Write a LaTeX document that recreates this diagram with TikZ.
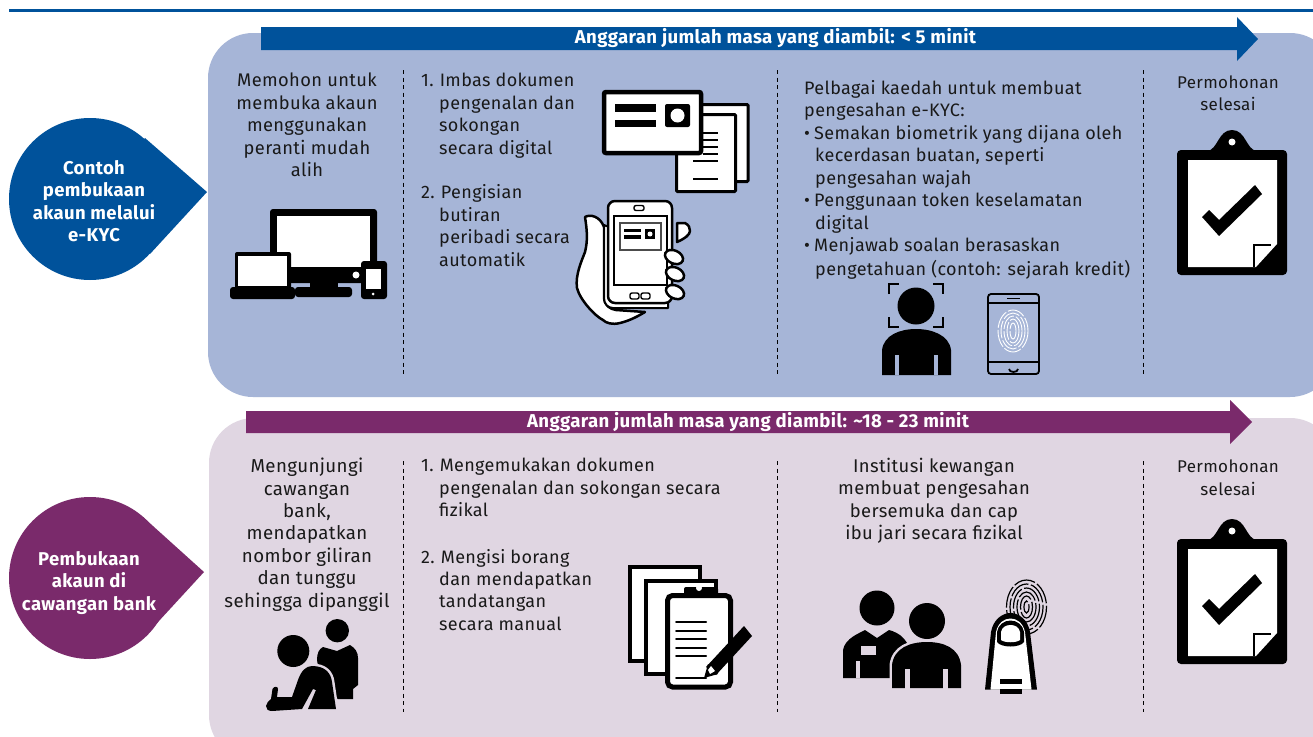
\documentclass[tikz,border=0pt]{standalone}
\usepackage{fontspec}
\setmainfont[LetterSpace=2]{Fira Sans}
\definecolor{bluedk}{HTML}{00529B}
\definecolor{bluelt}{HTML}{A6B5D7}
\definecolor{purpdk}{HTML}{7A2A6B}
\definecolor{purplt}{HTML}{E0D6E2}
\tikzset{x=1pt,y=-1pt,
 sized/.style={font=\fontsize{#1}{22.4}\selectfont},
 body/.style={sized=18,text=black!90,inner sep=0,align=left,anchor=north west},
 ctr/.style={sized=18,text=black!90,inner sep=0,align=center,anchor=north},
 lead/.style={font=\fontsize{18.5}{22.4}\selectfont\bfseries,text=white,inner sep=0,align=center},
 head/.style={font=\fontsize{18.6}{20}\selectfont\bfseries,text=white,inner sep=0},
 sepline/.style={dash pattern=on 4pt off 3.5pt,line width=0.9pt,black},
 panel/.style={rounded corners=45pt},
 clipboardicon/.pic={
  \fill[black,rounded corners=4pt] (1177,150) rectangle (1287,275);
  \fill[black] (1207,151) .. controls (1218,150) and (1218,130) .. (1232,130) .. controls (1246,130) and (1246,150) .. (1257,151) -- cycle;
  \fill[white] (1232,142) circle[radius=3.5];
  \fill[white] (1188,160) -- (1277,160) -- (1277,244) -- (1256,267) -- (1188,267) -- cycle;
  \draw[black,line width=2.5pt] (1271,245) -- (1254,245) -- (1254,267);
  \fill[black] (1202,217) -- (1209,210) -- (1219,220) -- (1255,185) -- (1262,194) -- (1219,236) -- cycle;
 },
}
\begin{document}
\begin{tikzpicture}
\useasboundingbox (0,0) rectangle (1313,736);
\fill[white] (0,0) rectangle (1313,736);
\begin{scope}
\clip (0,0) rectangle (1313,736);
\draw[bluedk,line width=3pt] (9,10) -- (1313,10);
\fill[bluelt,panel] (208,33) rectangle (1335,397);
\fill[purplt,panel] (209,418) rectangle (1335,760);
\end{scope}
% arrows
\fill[bluedk] (261,27) -- (1237,27) -- (1237,17) -- (1258,39) -- (1237,61) -- (1237,50) -- (261,50) -- cycle;
\fill[purpdk] (246,411) -- (1230,411) -- (1230,400) -- (1252,422) -- (1230,444) -- (1230,433) -- (246,433) -- cycle;
\node[head] (h1) at (775.5,38.5) {Anggaran jumlah masa yang diambil: < 5 minit};
\node[head] (h2) at (748,422) {Anggaran jumlah masa yang diambil: \char"007E{}18 - 23 minit};
% teardrops
\fill[bluedk] (90,199) circle[radius=81];
\fill[bluedk] (145,138) -- (207,192) -- (150,254) -- (90,199) -- cycle;
\fill[purpdk] (90,578) circle[radius=81];
\fill[purpdk] (143,517) -- (204,572) -- (147,634) -- (90,578) -- cycle;
\node[lead] (t1) at (94,201) {Contoh\\pembukaan\\akaun melalui\\e-KYC};
\node[lead] (t2) at (89,583) {Pembukaan\\akaun di\\cawangan bank};
% separators
\coordinate (s1a) at (403,70); \coordinate (s1b) at (403,374);
\coordinate (s2a) at (777,70); \coordinate (s2b) at (777,374);
\coordinate (s3a) at (1143,70); \coordinate (s3b) at (1143,374);
\coordinate (s4a) at (403,461); \coordinate (s4b) at (403,712);
\coordinate (s5a) at (777,461); \coordinate (s5b) at (777,712);
\coordinate (s6a) at (1143,461); \coordinate (s6b) at (1143,712);
\foreach \a/\b in {s1a/s1b,s2a/s2b,s3a/s3b,s4a/s4b,s5a/s5b,s6a/s6b} \draw[sepline] (\a) -- (\b);
% upper text
\node[ctr,sized=18.3] (u1) at (307,73) {Memohon untuk\\membuka akaun\\menggunakan\\peranti mudah\\alih};
\node[body] (u2a) at (421,73) {1.\kern1pt\ Imbas dokumen};
\node[body] (u2b) at (439,95.5) {pengenalan dan\\sokongan\\secara digital};
\node[body] (u2c) at (421,184.5) {2.\kern1pt\ Pengisian};
\node[body] (u2d) at (439,207) {butiran\\peribadi secara\\automatik};
\node[body] (u3a) at (804,80) {Pelbagai kaedah untuk membuat\\pengesahan e-KYC:};
\node[body] (u3b) at (804,125) {•\kern-1pt\ Semakan biometrik yang dijana oleh};
\node[body] (u3c) at (815,147.5) {kecerdasan buatan, seperti\\pengesahan wajah};
\node[body] (u3d) at (804,192.5) {•\kern-1pt\ Penggunaan token keselamatan};
\node[body] (u3e) at (815,215) {digital};
\node[body] (u3f) at (804,237.5) {•\kern-1pt\ Menjawab soalan berasaskan};
\node[body] (u3g) at (815,260) {pengetahuan (contoh: sejarah kredit)};
\node[ctr,sized=17] (u4) at (1228,75.5) {Permohonan\\selesai};
% lower text
\node[ctr,sized=18.7] (l1) at (307,458) {Mengunjungi\\cawangan\\bank,\\mendapatkan\\nombor giliran\\dan tunggu\\sehingga dipanggil};
\node[body] (l2a) at (421,458) {1.\kern1pt\ Mengemukakan dokumen};
\node[body] (l2b) at (439,480.5) {pengenalan dan sokongan secara\\fizikal};
\node[body] (l2c) at (421,549) {2.\kern1pt\ Mengisi borang};
\node[body] (l2d) at (439,571.5) {dan mendapatkan\\tandatangan\\secara manual};
\node[ctr,sized=18.4] (l3) at (934,458) {Institusi kewangan\\membuat pengesahan\\bersemuka dan cap\\ibu jari secara fizikal};
\node[ctr,sized=17] (l4) at (1228,460) {Permohonan\\selesai};
% clipboards
\pic at (0,0) {clipboardicon};
\pic at (0,389) {clipboardicon};
% devices
\fill[black,rounded corners=3pt] (270,209) rectangle (377,283);
\fill[white] (277,216) rectangle (370,267);
\fill[white] (356,275) circle[radius=3.5];
\fill[black] (310,283) rectangle (338,288);
\fill[black,rounded corners=3pt] (295,287) rectangle (352,297);
\fill[black,rounded corners=2pt] (235,252) rectangle (291,289);
\fill[white] (238,256) rectangle (287,286);
\fill[black,rounded corners=3pt] (230,287) rectangle (295,299);
\fill[black,rounded corners=3pt] (361,261) rectangle (387,299);
\fill[white] (366,269) rectangle (381,289);
\fill[white] (373,294) circle[radius=1.5];
% hand with phone
\draw[black,fill=white,line width=2.5pt,line join=round] (585,217) .. controls (590,214) and (600,216) .. (604,227) -- (604,298) .. controls (605,306) and (610,309) .. (616,310) -- (645,312) .. controls (635,318) and (628,321) .. (620,323) .. controls (612,325) and (606,323) .. (603,320) .. controls (595,316) and (580,300) .. (577,288) .. controls (575,275) and (582,260) .. (585,252) .. controls (588,240) and (587,230) .. (585,217) -- cycle;
\draw[black,line width=2pt,fill=white,line join=round] (604,225) -- (604,298) .. controls (604,304) and (608,308) .. (613,308) -- (668,308) -- (668,250) -- cycle;
\draw[black,fill=white,line width=2.5pt,line join=round] (677,223) -- (685,223) .. controls (689,225) and (690,228) .. (690,231) .. controls (690,235) and (684,239) .. (677,242) -- cycle;
\draw[black,fill=white,line width=2.5pt,rounded corners=7pt] (608,201) rectangle (672,303);
\draw[black,fill=white,line width=2pt] (614,216) rectangle (667,285);
\draw[black!70,fill=white,line width=1.2pt] (620,223) rectangle (661,250);
\fill[black] (624,229) rectangle (641,232);
\fill[black] (624,235) rectangle (641,238.5);
\fill[black] (645,229) rectangle (655,239);
\fill[white] (650,234) circle[radius=2.5];
\draw[black,line width=1.4pt,rounded corners=2pt] (634,205.5) rectangle (644,210.5);
\draw[black,line width=1.4pt,rounded corners=2pt] (630,293) rectangle (639,299);
\draw[black,line width=1.4pt,rounded corners=2pt] (641,293) rectangle (650,299);
\foreach \fx/\fy in {674/257,675/274,675/292}
 \draw[black,fill=white,line width=2.5pt,rotate around={-25:(\fx,\fy)}] (\fx,\fy) ellipse[x radius=9.5,y radius=6.5];
% id card and sheets
\draw[black,fill=white,line width=3pt,rounded corners=1pt] (697,104.5) rectangle (748,181.5);
\draw[black,fill=white,line width=3pt,rounded corners=1pt] (676.5,114.5) rectangle (735.5,191.5);
\foreach \ly/\lx in {133/703,140/703,147/703,154/703,161/693,179/693} \draw[black,line width=1.5pt] (\lx,\ly) -- (718,\ly);
\draw[black,fill=white,line width=4.5pt,rounded corners=2pt] (604,92) rectangle (701,153);
\fill[black] (615,104) rectangle (656,112);
\fill[black] (615,120) rectangle (656,127);
\fill[black,rounded corners=2pt] (665,104) rectangle (690,127);
\fill[white] (677.5,115.5) circle[radius=7];
% face
\fill[black] (916,306) circle[radius=18.5];
\fill[black] (882,375) -- (882,350) .. controls (884,335) and (900,329) .. (916,329) .. controls (932,329) and (949,335) .. (951,350) -- (951,375) -- cycle;
\fill[bluelt] (895,355) rectangle (899,375);
\fill[bluelt] (934,355) rectangle (938,375);
\draw[black,line width=1.8pt] (889,294) -- (889,284) -- (899,284);
\draw[black,line width=1.8pt] (933,284) -- (943,284) -- (943,294);
\draw[black,line width=1.8pt] (889,317) -- (889,327) -- (899,327);
\draw[black,line width=1.8pt] (933,327) -- (943,327) -- (943,317);
% phone fingerprint
\draw[black,line width=1.8pt,rounded corners=3pt] (988,294) rectangle (1039,374);
\draw[black,line width=1.4pt] (988,303) -- (1039,303);
\draw[black,line width=1.4pt] (988,362) -- (1039,362);
\draw[black,line width=1.5pt] (1007,298.5) -- (1020,298.5);
\draw[black,line width=1.8pt] (1009,369) arc[start angle=180,end angle=360,x radius=4.5,y radius=-3];
\foreach \rr/\ss in {15/21,12/18,9/15,6/12,3/8}
 \draw[white,line width=0.9pt,dash pattern=on 18pt off 2pt] (1013,331) ellipse[x radius=\rr,y radius=\ss];
% seated person
\fill[black] (337.3,630.7) circle[radius=11.7];
\fill[black] (317,660) .. controls (317,653) and (319,649) .. (323,647) -- (337,651) -- (350,645) .. controls (355,648) and (358,652) .. (358,658) -- (358,685) -- (353,689) -- (353,699) -- (338,699) -- (322,690) -- cycle;
\fill[black] (293.3,651) circle[radius=16];
\fill[black,preaction={draw=purplt,line width=5pt},line join=round] (266,706) .. controls (266,703) and (269,701) .. (271,699) -- (272.5,689) .. controls (274,686) and (278,686) .. (278,689) -- (277,697) -- (292,697) -- (298,680) .. controls (301,671) and (306,666) .. (312,666) .. controls (325,666) and (331,673) .. (332,682) -- (336,709) -- (308,709) -- (316,690) -- (313,689) -- (302,709) -- (272,711) .. controls (268,711) and (266,709) .. (266,706) -- cycle;
% docs with pen
\begin{scope}[shift={(6,0)}]
\draw[black,fill=white,line width=4pt] (624,567) rectangle (694,661);
\draw[black,fill=white,line width=4pt] (640,581) rectangle (710,674);
\fill[black,rounded corners=2pt] (678,587) rectangle (712,597);
\fill[white] (693,588) circle[radius=3];
\draw[black,fill=white,line width=5pt,rounded corners=5pt] (661.5,595.5) rectangle (724.5,687);
\foreach \ly in {622,631,639,648,656,678} \draw[black,line width=2pt,line cap=round] (670,\ly) -- (700,\ly);
\fill[black] (738,626) -- (746,636) -- (710,675) -- (700,667) -- cycle;
\fill[black] (698,678) -- (702,664) -- (712,674) -- cycle;
\fill[white] (702,670) -- (705,666) -- (709,671) -- (704,674) -- cycle;
\end{scope}
% two people
\fill[black] (877,608) circle[radius=17.5];
\fill[black] (843,678) -- (843,650) .. controls (845,638) and (860,633) .. (865,630) -- (877,638) -- (889,630) .. controls (900,633) and (910,640) .. (912,660) -- (900,678) -- cycle;
\fill[purplt] (856,661) rectangle (860,678);
\fill[purplt] (861,646) rectangle (876,655);
\fill[black] (927,621) circle[radius=18];
\fill[black,preaction={draw=purplt,line width=5pt}] (892,688) -- (892,665) .. controls (894,648) and (910,642) .. (927,642) .. controls (944,642) and (959,648) .. (961,665) -- (961,688) -- cycle;
\fill[purplt] (905,669) rectangle (910,689);
\fill[purplt] (943,669) rectangle (948,689);
% finger
\foreach \rr/\ss in {20/27,16.5/23,13/19,9.5/15,6/11,2.5/6}
 \draw[black,line width=1.2pt,dash pattern=on 22pt off 2.5pt] (1026.5,607) ellipse[x radius=\rr,y radius=\ss];
\fill[black] (985,689.5) -- (991,632) .. controls (993,620) and (1002,613) .. (1010.5,613) .. controls (1019,613) and (1028,620) .. (1030,632) -- (1037,689.5) -- cycle;
\fill[white] (990.5,689.5) -- (996,632) .. controls (998,623) and (1004,618.5) .. (1010.5,618.5) .. controls (1017,618.5) and (1023,623) .. (1025,632) -- (1031.5,689.5) -- cycle;
\fill[black] (997,642) -- (997,632) .. controls (998,625) and (1004,620.5) .. (1010.5,620.5) .. controls (1017,620.5) and (1023,625) .. (1024,632) -- (1024,642) .. controls (1020,648) and (1001,648) .. (997,642) -- cycle;
\fill[white] (1001,640) -- (1001,632) .. controls (1002,627) and (1006,625) .. (1010.5,625) .. controls (1015,625) and (1019,627) .. (1020,632) -- (1020,640) .. controls (1016,643) and (1005,643) .. (1001,640) -- cycle;
\fill[black] (1000,679) rectangle (1022,684);
\fill[black] (1000,689) rectangle (1022,694);
\end{tikzpicture}
\end{document}
